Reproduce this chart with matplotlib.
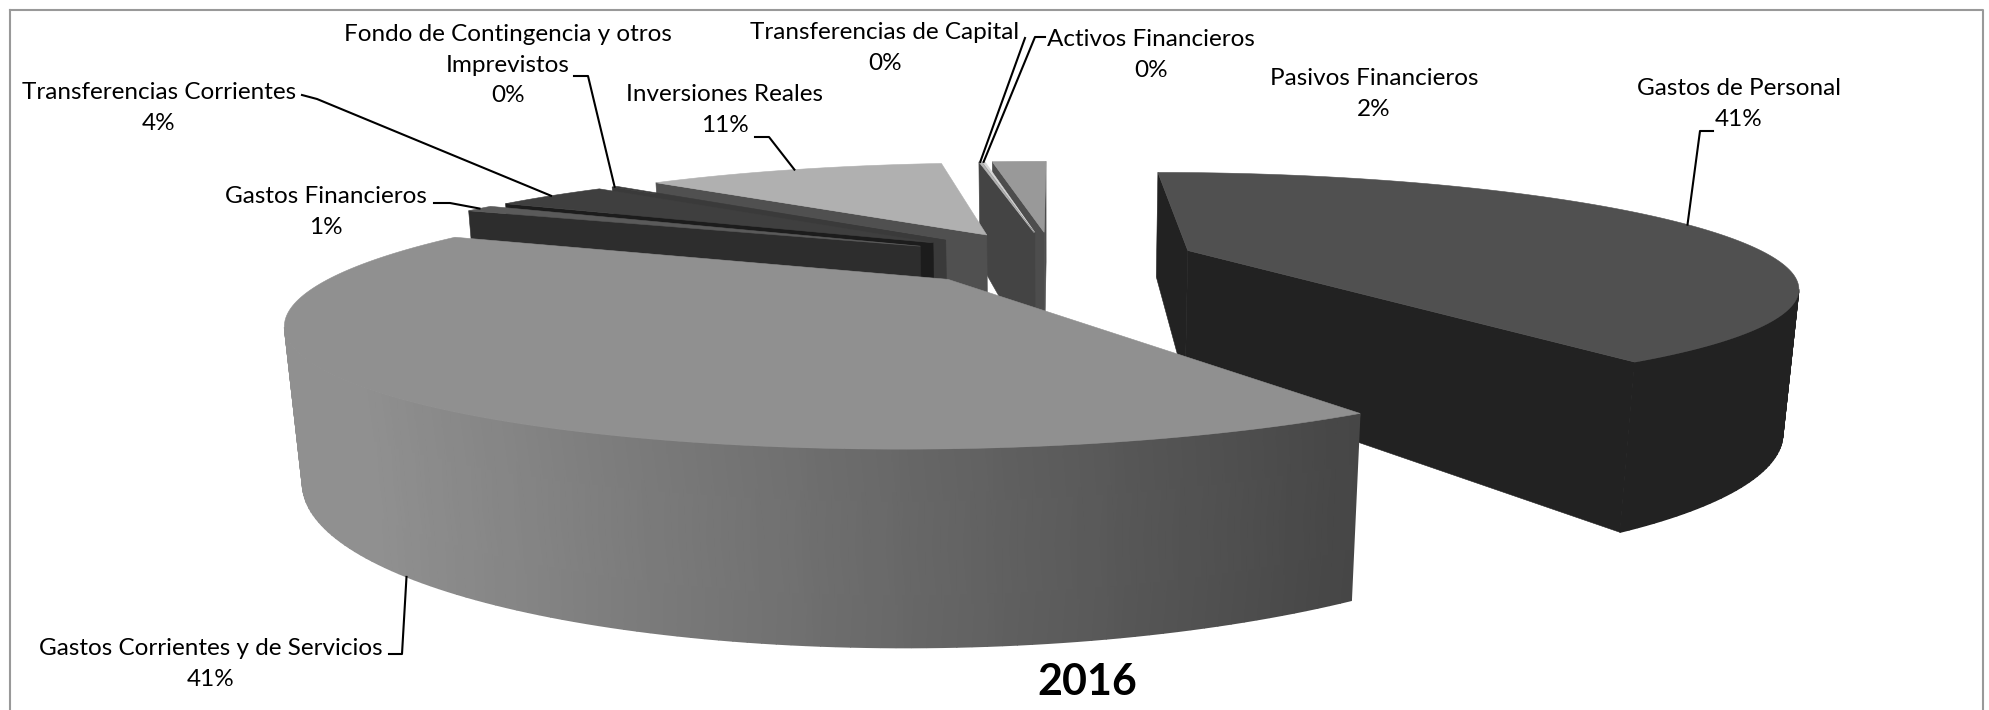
import numpy as np
import matplotlib

matplotlib.use("Agg")
import matplotlib.pyplot as plt

CATEGORIES = [
    "Gastos de Personal",
    "Gastos Corrientes y de Servicios",
    "Gastos Financieros",
    "Transferencias Corrientes",
    "Fondo de Contingencia y otros\nImprevistos",
    "Inversiones Reales",
    "Transferencias de Capital",
    "Activos Financieros",
    "Pasivos Financieros",
]
VALUES = [41.0, 40.6, 1.0, 4.0, 0.2, 11.0, 0.1, 0.1, 2.0]
TITLE = "2016"

# greys per slice: top face, walls
TOP_COLORS = ["#505050", "#909090", "#5a5a5a", "#3f3f3f", "#3a3a3a", "#b0b0b0", "#b8b8b8", "#d8d8d8", "#999999"]
WALL_COLORS = ["#222222", "#464646", "#2d2d2d", "#1c1c1c", "#3a3a3a", "#505050", "#444444", "#444444", "#4d4d4d"]
WALL_LEFT = {1: (360, 0x90)}  # screen x where the wall gradient stops, grey there

# camera, in output pixels
CX, HORIZON, A, B, NADIR = 1053, -101.5, 1235, 2010, 7208
DIST, THICK = 3.44, 0.069
EXPLODE = [0.245, 0.26, 0.26, 0.26, 0.26, 0.26, 0.26, 0.26, 0.26]

LABEL_POS = [
    (1739, 104), (211, 664), (326, 212), (159, 108),
    (508, 65), (725, 110), (885, 48), (1151, 55), (1374, 94),
]
LEADER_STUB = [
    ((1713, 131), (1700, 131)), ((389, 654), (402, 654)), ((434, 203), (450, 203)),
    ((302, 95), (317, 99)), ((574, 76), (588, 76)), ((755, 137), (769, 137)),
    ((1025, 38),), ((1045, 37), (1035, 37)), None,
]
LEADER_BOTTOM = [False, True, False, False, False, False, False, False, False]


def project(x, y, z=0.0):
    w = DIST + y + z * THICK
    u = CX + B * x / w
    v = HORIZON + (A + NADIR * z * THICK) / w
    return u, v


def draw_slice(ax, i, a0, a1, z):
    mid = (a0 + a1) / 2
    ox, oy = EXPLODE[i] * np.sin(mid), EXPLODE[i] * np.cos(mid)
    ang = np.linspace(a0, a1, max(2, int(np.degrees(a1 - a0)) + 1))
    x, y = ox + np.sin(ang), oy + np.cos(ang)
    tu, tv = project(x, y)
    bu, bv = project(x, y, 1.0)
    au, av = project(ox, oy)
    cu, cv = project(ox, oy, 1.0)
    wall = WALL_COLORS[i]

    # radial faces, only when they look at the camera
    for k, a, sign in ((0, a0, -1), (-1, a1, 1)):
        nx, ny = sign * np.cos(a), -sign * np.sin(a)
        if (0 - x[k]) * nx + (-DIST - y[k]) * ny > 0:
            ax.fill([au, tu[k], bu[k], cu], [av, tv[k], bv[k], cv], facecolor=wall, edgecolor=wall, lw=0.4, zorder=z)

    # outer wall
    seen = (-np.sin(ang) * x + np.cos(ang) * (-DIST - y)) > 0
    if seen.sum() >= 2:
        base = int(wall[1:3], 16)
        if i in WALL_LEFT:
            stop, grey = WALL_LEFT[i]
            greys = np.interp(tu[seen], [stop, tu[0]], [grey, base])
        else:
            greys = np.full(seen.sum(), float(base))
        xs = np.vstack([tu[seen], bu[seen]])
        ys = np.vstack([tv[seen], bv[seen]])
        ax.pcolormesh(xs, ys, np.vstack([greys, greys]), shading="gouraud", cmap="gray",
                      vmin=0, vmax=255, zorder=z)

    ax.fill(np.r_[au, tu], np.r_[av, tv], facecolor=TOP_COLORS[i], edgecolor=TOP_COLORS[i], lw=0.4, zorder=z + 0.5)


def main():
    plt.rcParams["font.family"] = ["Lato", "DejaVu Sans"]
    fig = plt.figure(figsize=(19.9, 7.1), dpi=100)
    ax = fig.add_axes([0, 0, 1, 1])

    edges = np.radians(np.r_[0, np.cumsum(VALUES)] * 3.6)
    spans = list(zip(edges[:-1], edges[1:]))
    order = sorted(range(len(VALUES)), key=lambda i: -np.cos((spans[i][0] + spans[i][1]) / 2))
    for z, i in enumerate(order):
        draw_slice(ax, i, spans[i][0], spans[i][1], z + 2)

    for i, name in enumerate(CATEGORIES):
        px, py = LABEL_POS[i]
        ax.text(px, py, f"{name}\n{VALUES[i]:.0f}%", ha="center", va="center", fontsize=17.5,
                color="black", linespacing=1.55, zorder=50)
        stub = LEADER_STUB[i]
        if stub is None:
            continue
        mid = sum(spans[i]) / 2
        ex = (EXPLODE[i] + 1) * np.sin(mid)
        ey = (EXPLODE[i] + 1) * np.cos(mid)
        eu, ev = project(ex, ey, 1.0 if LEADER_BOTTOM[i] else 0.0)
        pts = list(stub) + [(eu, ev)]
        ax.plot([p[0] for p in pts], [p[1] for p in pts], color="black", lw=1.5, zorder=40)

    ax.text(1087, 682, TITLE, ha="center", va="center", fontsize=31, fontweight="bold", zorder=50)
    ax.plot([9.5, 1983, 1983, 9.5, 9.5], [9.5, 9.5, 712, 712, 9.5], color="#999999", lw=1.5, zorder=60)

    ax.set_xlim(0, 1990)
    ax.set_ylim(710, 0)
    ax.axis("off")
    fig.savefig("out.png", dpi=100)


if __name__ == "__main__":
    main()
